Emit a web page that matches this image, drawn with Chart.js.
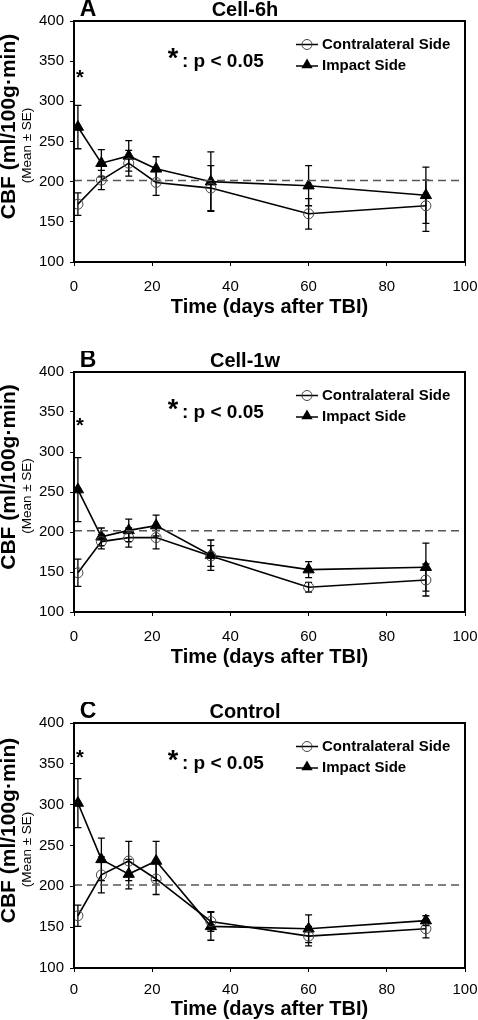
<!DOCTYPE html>
<html>
<head>
<meta charset="utf-8">
<script src="https://cdn.jsdelivr.net/npm/chart.js@4/dist/chart.umd.min.js"></script>
<style>
  body { margin: 0; background: #fff; }
  .panel { position: absolute; left: 0; width: 478px; }
  canvas { display: block; }
</style>
</head>
<body>
<div class="panel" style="top:0px"><canvas id="chartA" width="478" height="340"></canvas></div>
<div class="panel" style="top:351px"><canvas id="chartB" width="478" height="340"></canvas></div>
<div class="panel" style="top:702px"><canvas id="chartC" width="478" height="318"></canvas></div>
<script>
// datos
const days = [1, 7, 14, 21, 35, 60, 90];
const xTicks = [0, 20, 40, 60, 80, 100];
const yTicks = [100, 150, 200, 250, 300, 350, 400];
const seriesNames = ["Contralateral Side", "Impact Side"];
const panelLetters = ["A", "B", "C"];
const panelTitles = ["Cell-6h", "Cell-1w", "Control"];
const baselineCBF = 201.5;
const starValues = [336, 340, 365];

// A: Cell-6h
const contraA = [172, 202, 223, 199, 192, 160, 170];
const contraSeA = [14, 12, 16, 16, 28, 19, 32];
const impactA = [268, 223, 232, 216, 200, 195, 183];
const impactSeA = [27, 17, 19, 15, 37, 25, 35];

// B: Cell-1w
const contraB = [149, 188, 193, 193, 170, 131, 140];
const contraSeB = [17, 9, 12, 14, 13, 6, 20];
const impactB = [253, 194, 202, 208, 171, 153, 156];
const impactSeB = [40, 11, 14, 13, 19, 10, 30];

// C: Control
const contraC = [164, 214, 231, 209, 157, 139, 148];
const contraSeC = [13, 22, 24, 19, 12, 12, 11];
const impactC = [302, 233, 215, 231, 151, 148, 158];
const impactSeC = [30, 26, 18, 24, 17, 17, 6];

const FONT = '"Liberation Sans", Arial, sans-serif';
Chart.defaults.font.family = FONT;
Chart.defaults.color = "#000";

function drawTriangle(ctx, x, y, r) {
    ctx.beginPath();
    ctx.moveTo(x, y - r);
    ctx.lineTo(x + 0.866 * r, y + 0.5 * r);
    ctx.lineTo(x - 0.866 * r, y + 0.5 * r);
    ctx.closePath();
    ctx.fill();
}

function makePanel(canvasId, idx, contra, contraSe, impact, impactSe, layout) {
    const decor = {
        id: "decor",
        beforeDatasetsDraw(chart) {
            const { ctx, scales: { x, y } } = chart;
            ctx.save();
            ctx.strokeStyle = "#000";
            ctx.lineWidth = 1.3;
            [[contra, contraSe], [impact, impactSe]].forEach(([m, se]) => {
                m.forEach((v, i) => {
                    const px = x.getPixelForValue(days[i]);
                    const hi = y.getPixelForValue(v + se[i]);
                    const lo = y.getPixelForValue(v - se[i]);
                    ctx.beginPath();
                    ctx.moveTo(px, hi); ctx.lineTo(px, lo);
                    ctx.moveTo(px - 3.5, hi); ctx.lineTo(px + 3.5, hi);
                    ctx.moveTo(px - 3.5, lo); ctx.lineTo(px + 3.5, lo);
                    ctx.stroke();
                });
            });
            ctx.restore();
        },
        afterDraw(chart) {
            const { ctx, chartArea: a, scales: { x, y } } = chart;
            ctx.save();
            // caja del gráfico
            ctx.strokeStyle = "#000";
            ctx.lineWidth = 2;
            ctx.strokeRect(a.left, a.top, a.right - a.left, a.bottom - a.top);

            ctx.fillStyle = "#000";
            ctx.textBaseline = "middle";

            // letra y título del panel
            ctx.textAlign = "center";
            ctx.font = "bold 23px " + FONT;
            ctx.fillText(panelLetters[idx], 88, a.top - 11);
            ctx.font = "bold 20px " + FONT;
            ctx.fillText(panelTitles[idx], 245, a.top - 11);

            // título eje x
            ctx.font = "bold 20px " + FONT;
            ctx.fillText("Time (days after TBI)", (a.left + a.right) / 2, a.bottom + layout.xTitleGap);

            // títulos eje y
            const midY = (a.top + a.bottom) / 2;
            ctx.save();
            ctx.translate(9, midY - 15);
            ctx.rotate(-Math.PI / 2);
            ctx.font = "bold 21px " + FONT;
            ctx.fillText("CBF (ml/100g\u00b7min)", 0, 0);
            ctx.restore();
            ctx.save();
            ctx.translate(27, midY + 4);
            ctx.rotate(-Math.PI / 2);
            ctx.font = "13.5px " + FONT;
            ctx.fillText("(Mean \u00b1 SE)", 0, 0);
            ctx.restore();

            // asterisco sobre el día 1
            ctx.textBaseline = "alphabetic";
            ctx.font = "bold 20px " + FONT;
            ctx.fillText("*", x.getPixelForValue(days[0]) + 2, y.getPixelForValue(starValues[idx]) + 12);

            // nota de significación
            ctx.font = "bold 27px " + FONT;
            ctx.fillText("*", 173, a.top + 46);
            ctx.textAlign = "left";
            ctx.font = "bold 19px " + FONT;
            ctx.fillText(": p < 0.05", 182, a.top + 46);

            // leyenda
            ctx.textBaseline = "middle";
            ctx.font = "bold 15px " + FONT;
            const rows = [a.top + 23.5, a.top + 45];
            rows.forEach((ry, k) => {
                ctx.strokeStyle = "#000";
                ctx.lineWidth = 1.5;
                ctx.beginPath();
                ctx.moveTo(296, ry); ctx.lineTo(318, ry);
                ctx.stroke();
                if (k === 0) {
                    ctx.strokeStyle = "#444";
                    ctx.lineWidth = 1;
                    ctx.beginPath();
                    ctx.arc(307, ry, 5, 0, Math.PI * 2);
                    ctx.stroke();
                } else {
                    drawTriangle(ctx, 307, ry - 1, 6.5);
                }
                ctx.fillText(seriesNames[k], 322, ry);
            });
            ctx.restore();
        },
    };

    new Chart(document.getElementById(canvasId), {
        type: "line",
        data: {
            datasets: [
                {
                    label: "baseline",
                    data: [{ x: 0, y: baselineCBF }, { x: 100, y: baselineCBF }],
                    borderColor: "#555",
                    borderWidth: 1.5,
                    borderDash: [8, 5],
                    pointRadius: 0,
                },
                {
                    label: seriesNames[0],
                    data: days.map((d, i) => ({ x: d, y: contra[i] })),
                    borderColor: "#000",
                    borderWidth: 1.6,
                    pointStyle: "circle",
                    pointRadius: 5,
                    pointBorderColor: "#444",
                    pointBorderWidth: 1,
                    pointBackgroundColor: "rgba(0,0,0,0)",
                    tension: 0,
                },
                {
                    label: seriesNames[1],
                    data: days.map((d, i) => ({ x: d, y: impact[i] })),
                    borderColor: "#000",
                    borderWidth: 1.6,
                    pointStyle: "triangle",
                    pointRadius: 6.5,
                    pointBorderColor: "#000",
                    pointBorderWidth: 1,
                    pointBackgroundColor: "#000",
                    tension: 0,
                },
            ],
        },
        options: {
            responsive: false,
            animation: false,
            events: [],
            layout: { padding: { top: 21, left: 0, right: 13, bottom: 0 } },
            plugins: {
                legend: { display: false },
                tooltip: { enabled: false },
            },
            scales: {
                x: {
                    type: "linear",
                    min: 0,
                    max: 100,
                    afterBuildTicks: (s) => { s.ticks = xTicks.map((v) => ({ value: v })); },
                    afterFit: (s) => {
                        s.height = layout.h - layout.plotBottom;
                        s.paddingLeft = 0;
                        s.paddingRight = 0;
                    },
                    grid: { drawOnChartArea: false, drawTicks: true, tickLength: 4, color: "#000" },
                    border: { display: true, color: "#000", width: 2 },
                    ticks: { font: { size: 15 }, padding: layout.tickPad, maxRotation: 0, color: "#000" },
                },
                y: {
                    type: "linear",
                    min: 100,
                    max: 400,
                    afterBuildTicks: (s) => { s.ticks = yTicks.map((v) => ({ value: v })); },
                    afterFit: (s) => {
                        s.width = 74;
                        s.paddingTop = 0;
                        s.paddingBottom = 0;
                    },
                    grid: { drawOnChartArea: false, drawTicks: true, tickLength: 4, color: "#000" },
                    border: { display: true, color: "#000", width: 2 },
                    ticks: { font: { size: 15 }, padding: 6, color: "#000" },
                },
            },
        },
        plugins: [decor],
    });
}

makePanel("chartA", 0, contraA, contraSeA, impactA, impactSeA, { h: 340, plotBottom: 262, tickPad: 12, xTitleGap: 45 });
makePanel("chartB", 1, contraB, contraSeB, impactB, impactSeB, { h: 340, plotBottom: 261, tickPad: 12, xTitleGap: 45 });
makePanel("chartC", 2, contraC, contraSeC, impactC, impactSeC, { h: 318, plotBottom: 266, tickPad: 9, xTitleGap: 41 });
</script>
</body>
</html>
